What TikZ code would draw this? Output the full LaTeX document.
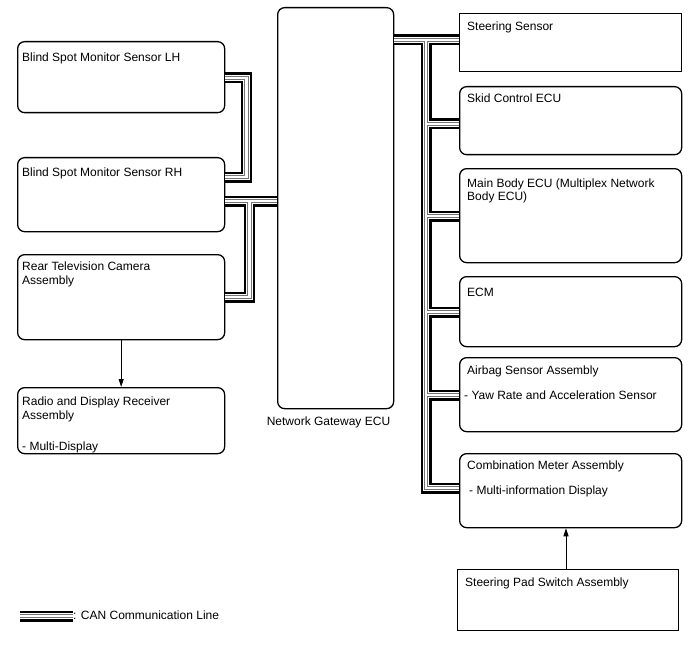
\documentclass[tikz,border=0pt]{standalone}
\usepackage{fontspec}
\setmainfont{Liberation Sans}
\usetikzlibrary{arrows.meta}
\tikzset{
  rbox/.style={draw, line width=1.3pt, rounded corners=7pt, inner sep=0pt, anchor=north west},
  sbox/.style={draw, line width=1.3pt, inner sep=0pt, anchor=north west},
  txt/.style={anchor=base west, inner sep=0pt, font=\fontsize{12}{14}\selectfont},
  arr/.style={line width=0.8pt, -{Triangle[length=8pt,width=5pt]}},
  canA/.style={line width=11pt, black},
  canB/.style={line width=6.6pt, white},
  canC/.style={line width=4.6pt, black!55},
  canD/.style={line width=2.6pt, white},
}
\newcommand\canroutes[1]{%
  \draw[#1] (lh.east |- l1) -- (l1) -- (l2) -- (rh.east |- l2);
  \draw[#1] (rh.east |- m1) -- (gw.west |- m1);
  \draw[#1] (m2) -- (m3) -- (cam.east |- m3);
  \draw[#1] (gw.east |- r1) -- (steer.west |- r1);
  \draw[#1] (r2) -- (bcomb) -- (comb.west |- bcomb);
  \draw[#1] (bskid) -- (skid.west |- bskid);
  \draw[#1] (bbody) -- (body.west |- bbody);
  \draw[#1] (becm) -- (ecm.west |- becm);
  \draw[#1] (bair) -- (air.west |- bair);
  \draw[#1] (lg1) -- (lg2);
}
\begin{document}
\begin{tikzpicture}[x=1pt, y=-1pt]
\useasboundingbox (0,0) rectangle (688,658);

% boxes
\node[rbox, minimum width=207pt, minimum height=71pt] (lh) at (17,41) {};
\node[rbox, minimum width=207pt, minimum height=74pt] (rh) at (17,157) {};
\node[rbox, minimum width=207pt, minimum height=85pt] (cam) at (17,254) {};
\node[rbox, minimum width=207pt, minimum height=66pt] (radio) at (17,387) {};
\node[rbox, minimum width=116pt, minimum height=401pt] (gw) at (277,7) {};
\node[sbox, minimum width=222pt, minimum height=58pt] (steer) at (459,13) {};
\node[rbox, minimum width=222pt, minimum height=68pt] (skid) at (459,86) {};
\node[rbox, minimum width=222pt, minimum height=94pt] (body) at (459,168) {};
\node[rbox, minimum width=222pt, minimum height=70pt] (ecm) at (459,276) {};
\node[rbox, minimum width=222pt, minimum height=74pt] (air) at (459,357) {};
\node[rbox, minimum width=222pt, minimum height=74pt] (comb) at (459,453) {};
\node[sbox, minimum width=221pt, minimum height=61pt] (pad) at (457,569) {};

% texts
\node[txt] (t1) at (22,62) {Blind Spot Monitor Sensor LH};
\node[txt] (t2) at (22,176) {Blind Spot Monitor Sensor RH};
\node[txt] (t3) at (22,270) {Rear Television Camera};
\node[txt] (t4) at (22,284) {Assembly};
\node[txt] (t5) at (22,405) {Radio and Display Receiver};
\node[txt] (t6) at (22,419) {Assembly};
\node[txt] (t7) at (22,450) {- Multi-Display};
\node[txt, anchor=base] (t8) at (328.5,425) {Network Gateway ECU};
\node[txt] (t9) at (467,31) {Steering Sensor};
\node[txt] (t10) at (467,103) {Skid Control ECU};
\node[txt] (t11) at (467,187) {Main Body ECU (Multiplex Network};
\node[txt] (t12) at (467,200) {Body ECU)};
\node[txt] (t13) at (467,296) {ECM};
\node[txt] (t14) at (467,374) {Airbag Sensor Assembly};
\node[txt] (t15) at (464,399) {- Yaw Rate and Acceleration Sensor};
\node[txt] (t16) at (467,469) {Combination Meter Assembly};
\node[txt] (t17) at (469,494) {- Multi-information Display};
\node[txt] (t18) at (465,586) {Steering Pad Switch Assembly};
\node[txt] (t19) at (73,619) {: CAN Communication Line};

% CAN route points
\coordinate (l1) at (246.5,78);
\coordinate (l2) at (246.5,177);
\coordinate (m1) at (0,201);
\coordinate (m2) at (249.5,201);
\coordinate (m3) at (249.5,297);
\coordinate (r1) at (0,40);
\coordinate (r2) at (426,40);
\coordinate (bskid) at (426,124);
\coordinate (bbody) at (426,216);
\coordinate (becm) at (426,312);
\coordinate (bair) at (426,395);
\coordinate (bcomb) at (426,488);
\coordinate (lg1) at (20,616);
\coordinate (lg2) at (73,616);

\canroutes{canA}
\canroutes{canB}
\canroutes{canC}
\canroutes{canD}

% arrows
\coordinate (ax) at (566,0);
\draw[arr] (cam.south) -- (radio.north);
\draw[arr] (pad.north -| ax) -- (comb.south -| ax);
\end{tikzpicture}
\end{document}
